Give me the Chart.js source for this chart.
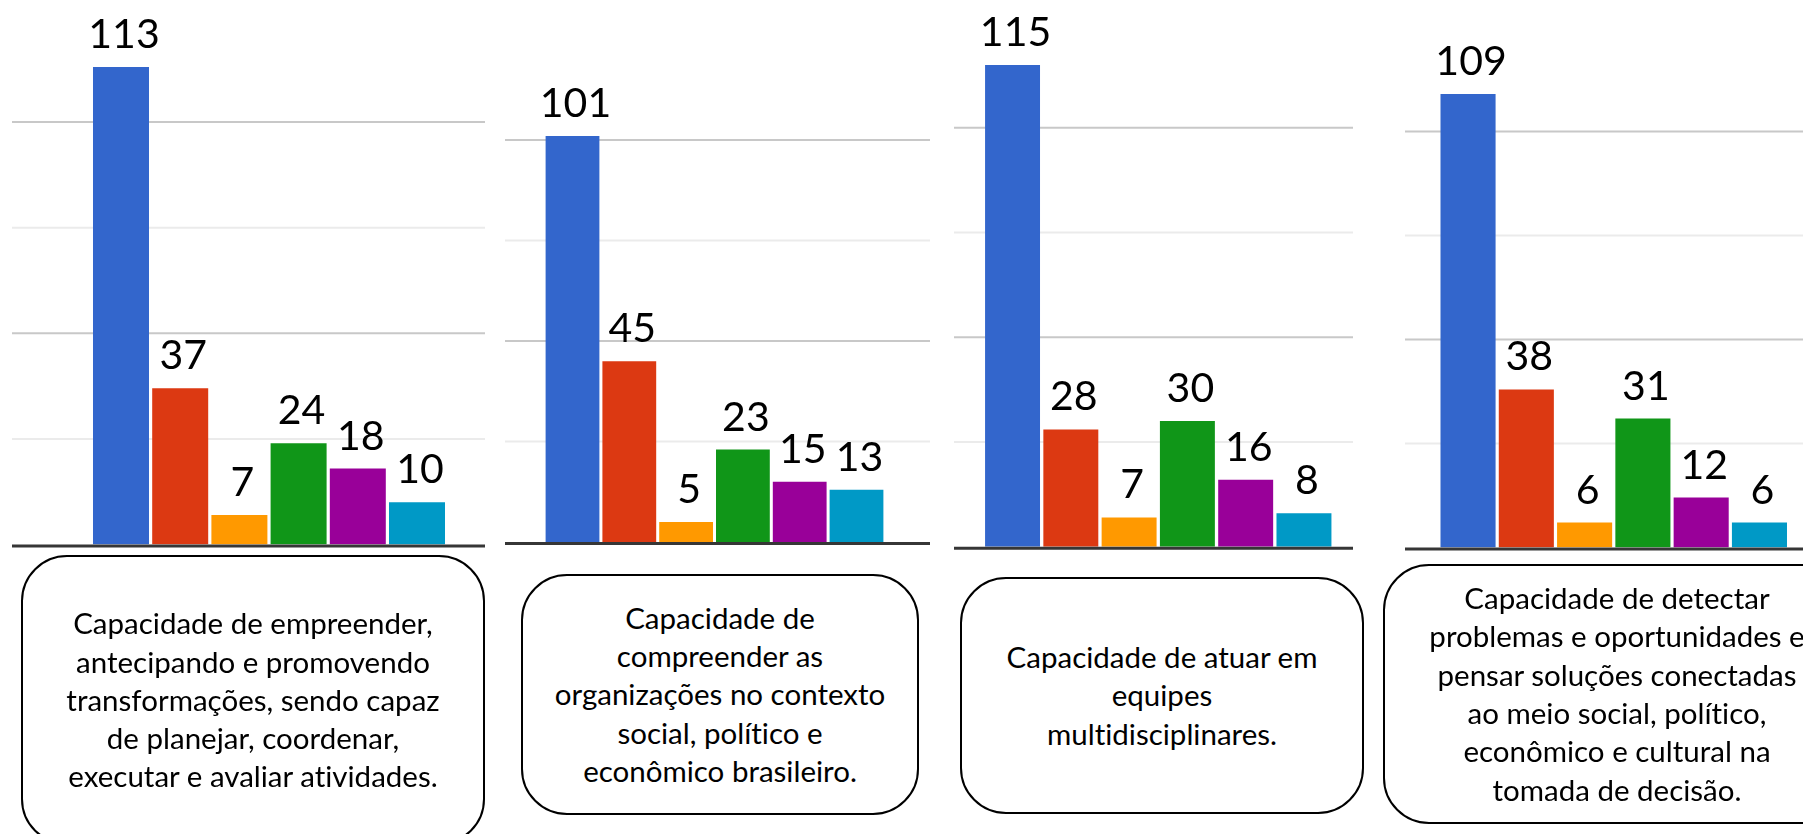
<!DOCTYPE html>
<html><head><meta charset="utf-8">
<script src="https://cdn.jsdelivr.net/npm/chart.js@4.4.1/dist/chart.umd.min.js"></script>
<style>
html,body{margin:0;padding:0;width:1803px;height:834px;overflow:hidden;background:#fff;position:relative;}
canvas.panel{position:absolute;top:0;}
.box{position:absolute;border:2px solid #000;border-radius:46px;box-sizing:border-box;display:flex;align-items:center;justify-content:center;font-family:Lato,"Open Sans",sans-serif;font-size:29.5px;line-height:38.3px;color:#000;text-align:center;white-space:pre-line;font-variant-ligatures:none;font-feature-settings:"liga" 0,"clig" 0;}
</style></head><body>
<script>
// ---- data ----
const categories = [
  'Capacidade de empreender,\nantecipando e promovendo\ntransformações, sendo capaz\nde planejar, coordenar,\nexecutar e avaliar atividades.',
  'Capacidade de\ncompreender as\norganizações no contexto\nsocial, político e\neconômico brasileiro.',
  'Capacidade de atuar em\nequipes\nmultidisciplinares.',
  'Capacidade de detectar\nproblemas e oportunidades e\npensar soluções conectadas\nao meio social, político,\neconômico e cultural na\ntomada de decisão.'
];
const seriesNames = ['Série 1','Série 2','Série 3','Série 4','Série 5','Série 6'];
const seriesColors = ['#3366CC','#DC3912','#FF9900','#109618','#990099','#0099C6'];
const valuesEmpreender = [113, 37, 7, 24, 18, 10];
const valuesCompreender = [101, 45, 5, 23, 15, 13];
const valuesEquipes = [115, 28, 7, 30, 16, 8];
const valuesDetectar = [109, 38, 6, 31, 12, 6];
const panelValues = [valuesEmpreender, valuesCompreender, valuesEquipes, valuesDetectar];
const gridStep = 25;
const yMax = 125;

// ---- layout (positions / sizes) ----
const layout = [
  {left:12,   width:473, zero:544.6, ppu:4.226, padL:79.4, padR:38.4, barPct:0.946, box:{left:21,  top:555, width:464, height:290}},
  {left:505,  width:425, zero:542.0, ppu:4.019, padL:39.1, padR:45.1, barPct:0.947, box:{left:521, top:574, width:398, height:241}},
  {left:954,  width:399, zero:546.8, ppu:4.190, padL:29.4, padR:19.9, barPct:0.943, box:{left:960, top:577, width:404, height:237}},
  {left:1405, width:420, zero:547.5, ppu:4.161, padL:33.9, padR:36.4, barPct:0.945, box:{left:1383,top:564, width:468, height:260}}
];
const canvasH = 570;

const gridPlugin = {
  id:'grid',
  beforeDatasetsDraw(chart){
    const c = chart.ctx, y = chart.scales.y;
    c.save();
    c.lineWidth = 2;
    for (let v = gridStep; v < yMax; v += gridStep){
      const py = y.getPixelForValue(v);
      c.strokeStyle = (v % (gridStep*2) === 0) ? '#c8c8c8' : '#ebebeb';
      c.beginPath(); c.moveTo(0, py); c.lineTo(chart.width, py); c.stroke();
    }
    c.restore();
  },
  afterDatasetsDraw(chart){
    const c = chart.ctx, y = chart.scales.y;
    c.save();
    const py = y.getPixelForValue(0) + 1.5;
    c.strokeStyle = '#363636'; c.lineWidth = 3;
    c.beginPath(); c.moveTo(0, py); c.lineTo(chart.width, py); c.stroke();
    // value labels
    c.fillStyle = '#000';
    c.font = '41px Lato, "Open Sans", sans-serif';
    c.textAlign = 'center'; c.textBaseline = 'alphabetic';
    const meta = chart.getDatasetMeta(0);
    const data = chart.data.datasets[0].data;
    meta.data.forEach((bar, i) => {
      c.fillText(String(data[i]), bar.x + 3, bar.y - 19);
    });
    c.restore();
  }
};

layout.forEach((L, k) => {
  const cv = document.createElement('canvas');
  cv.className = 'panel';
  cv.width = L.width; cv.height = canvasH;
  cv.style.left = L.left + 'px';
  cv.style.width = L.width + 'px'; cv.style.height = canvasH + 'px';
  document.body.appendChild(cv);
  new Chart(cv.getContext('2d'), {
    type:'bar',
    data:{labels: seriesNames, datasets:[{
      label: categories[k], data: panelValues[k], backgroundColor: seriesColors,
      categoryPercentage: 1, barPercentage: L.barPct, borderWidth: 0
    }]},
    options:{
      responsive:false, animation:false, devicePixelRatio:1,
      layout:{padding:{left:L.padL, right:L.padR, top:L.zero - yMax*L.ppu, bottom:canvasH - L.zero}},
      plugins:{legend:{display:false}, tooltip:{enabled:false}},
      scales:{
        x:{display:false, offset:true, grid:{display:false}},
        y:{display:false, min:0, max:yMax, grid:{display:false}}
      }
    },
    plugins:[gridPlugin]
  });
  const b = document.createElement('div');
  b.className = 'box';
  b.style.left = L.box.left + 'px'; b.style.top = L.box.top + 'px';
  b.style.width = L.box.width + 'px'; b.style.height = L.box.height + 'px';
  b.textContent = categories[k];
  document.body.appendChild(b);
});
</script>
</body></html>
